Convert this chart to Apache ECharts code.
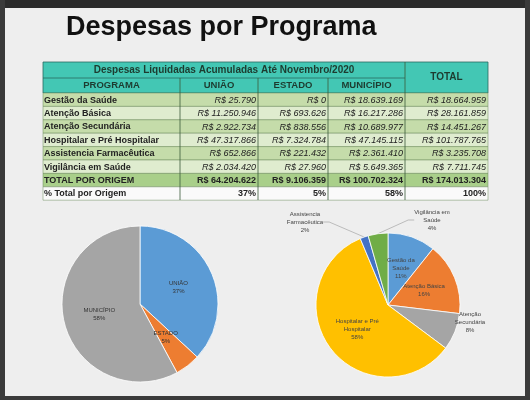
<!DOCTYPE html><html><head><meta charset="utf-8">
<script src="https://cdn.jsdelivr.net/npm/echarts@6/dist/echarts.min.js"></script>
<style>html,body{margin:0;padding:0;background:#3a3a3a}#c{width:530px;height:400px}</style></head><body><div id="c"></div>
<script>
const programas=['Gestão da Saúde','Atenção Básica','Atenção Secundária','Hospitalar e Pré Hospitalar','Assistencia Farmacêutica','Vigilância em Saúde'];
const uniao=['R$ 25.790','R$ 11.250.946','R$ 2.922.734','R$ 47.317.866','R$ 652.866','R$ 2.034.420'];
const estado=['R$ 0','R$ 693.626','R$ 838.556','R$ 7.324.784','R$ 221.432','R$ 27.960'];
const municipio=['R$ 18.639.169','R$ 16.217.286','R$ 10.689.977','R$ 47.145.115','R$ 2.361.410','R$ 5.649.365'];
const totalProg=['R$ 18.664.959','R$ 28.161.859','R$ 14.451.267','R$ 101.787.765','R$ 3.235.708','R$ 7.711.745'];
const totalRow=['TOTAL POR ORIGEM','R$ 64.204.622','R$ 9.106.359','R$ 100.702.324','R$ 174.013.304'];
const pctRow=['% Total por Origem','37%','5%','58%','100%'];
const origemNames=['UNIÃO','ESTADO','MUNICÍPIO'];
const origemValues=[64204622,9106359,100702324];
const progPieNames=['Gestão da Saúde','Atenção Básica','Atenção Secundária','Hospitalar e Pré Hospitalar','Assistencia Farmacêutica','Vigilância em Saúde'];
const progPieValues=[18664959,28161859,14451267,101787765,3235708,7711745];

const cols=[43,180,258,328,405,488];
const g=[];
g.push({type:'rect',shape:{x:5,y:0,width:520,height:8},style:{fill:'#2b2b2b'}});
g.push({type:'rect',shape:{x:5,y:8,width:520,height:388},style:{fill:'#eeeeee'}});
g.push({type:'text',x:66,y:14,style:{text:'Despesas por Programa',font:'bold 27px "Liberation Sans", Arial',fill:'#111'}});
const teal='#43c7b4';
g.push({type:'rect',shape:{x:43,y:62,width:445,height:31},style:{fill:teal,stroke:'#2a6b5f',lineWidth:0.8}});
g.push({type:'text',x:(43+405)/2,y:70,style:{text:'Despesas Liquidadas Acumuladas Até Novembro/2020',font:'bold 10px "Liberation Sans"',fill:'#1d3b2f',align:'center',verticalAlign:'middle'}});
g.push({type:'text',x:(405+488)/2,y:77.5,style:{text:'TOTAL',font:'bold 10px "Liberation Sans"',fill:'#1d3b2f',align:'center',verticalAlign:'middle'}});
const hdr=['PROGRAMA','UNIÃO','ESTADO','MUNICÍPIO'];
hdr.forEach((h,i)=>g.push({type:'text',x:(cols[i]+cols[i+1])/2,y:85.5,style:{text:h,font:'bold 9.5px "Liberation Sans"',fill:'#1d3b2f',align:'center',verticalAlign:'middle'}}));
g.push({type:'line',shape:{x1:43,y1:78,x2:405,y2:78},style:{stroke:'#2a6b5f',lineWidth:0.8}});
const rh=13.4;
const rows=programas.map((p,i)=>[p,uniao[i],estado[i],municipio[i],totalProg[i]]);
rows.push(totalRow);rows.push(pctRow);
rows.forEach((r,i)=>{
  const y=93+i*rh;
  const fill=i===7?'#fafafa':(i===6?'#a9cf8a':(i%2===0?'#c5dcaa':'#dfeccf'));
  g.push({type:'rect',shape:{x:43,y:y,width:445,height:rh},style:{fill:fill,stroke:'#6a8a5a',lineWidth:0.5}});
  r.forEach((t,j)=>{
    const bold=j===0||i>=6;
    g.push({type:'text',x:j===0?cols[0]+1:cols[j+1]-2,y:y+rh/2+0.5,style:{text:t,font:(bold?'bold ':'italic ')+'9px "Liberation Sans"',fill:'#222',align:j===0?'left':'right',verticalAlign:'middle'}});
  });
});
for(let j=1;j<cols.length-1;j++) g.push({type:'line',shape:{x1:cols[j],y1:j===4?62:78,x2:cols[j],y2:200},style:{stroke:'#3a5a3a',lineWidth:0.8}});

const small='"Liberation Sans", Arial';
const fixedPos={4:[305,222],5:[432,220],2:[470,322]};
const chart=echarts.init(document.getElementById('c'));
chart.setOption({
  animation:false,
  graphic:g,
  series:[{
    type:'pie',center:[140,304],radius:78,startAngle:90,clockwise:true,silent:true,
    itemStyle:{borderColor:'#fff',borderWidth:0.8},
    color:['#5b9bd5','#ed7d31','#a5a5a5'],
    label:{position:'inside',fontSize:6,fontFamily:small,color:'#333',lineHeight:8,formatter:p=>p.name+'\n'+Math.round(p.percent)+'%'},
    data:origemNames.map((n,i)=>({name:n,value:origemValues[i]}))
  },{
    type:'pie',center:[388,305],radius:72,startAngle:90,clockwise:true,silent:true,
    itemStyle:{borderColor:'#fff',borderWidth:0.8},
    color:['#5b9bd5','#ed7d31','#a5a5a5','#ffc000','#4472c4','#70ad47'],
    label:{position:'inside',fontSize:6,fontFamily:small,color:'#444',lineHeight:8,
      formatter:p=>{const n=p.name==='Hospitalar e Pré Hospitalar'?'Hospitalar e Pré\nHospitalar':(p.name==='Assistencia Farmacêutica'?'Assistencia\nFarmacêutica':(p.name==='Vigilância em Saúde'?'Vigilância em\nSaúde':(p.name==='Atenção Secundária'?'Atenção\nSecundária':(p.name==='Gestão da Saúde'?'Gestão da\nSaúde':p.name))));return n+'\n'+Math.round(p.percent)+'%';}},
    labelLine:{lineStyle:{color:'#999',width:0.6},length:8,length2:6},
    labelLayout:p=>{const f=fixedPos[p.dataIndex];return f?{x:f[0],y:f[1],align:'center',verticalAlign:'middle'}:{};},
    data:progPieNames.map((n,i)=>{
      const outside=(i===2||i===4||i===5);
      return {name:n,value:progPieValues[i],label:outside?{position:'outside',align:'center'}:{},labelLine:{show:i===4||i===5}};
    })
  }]
});
</script></body></html>
